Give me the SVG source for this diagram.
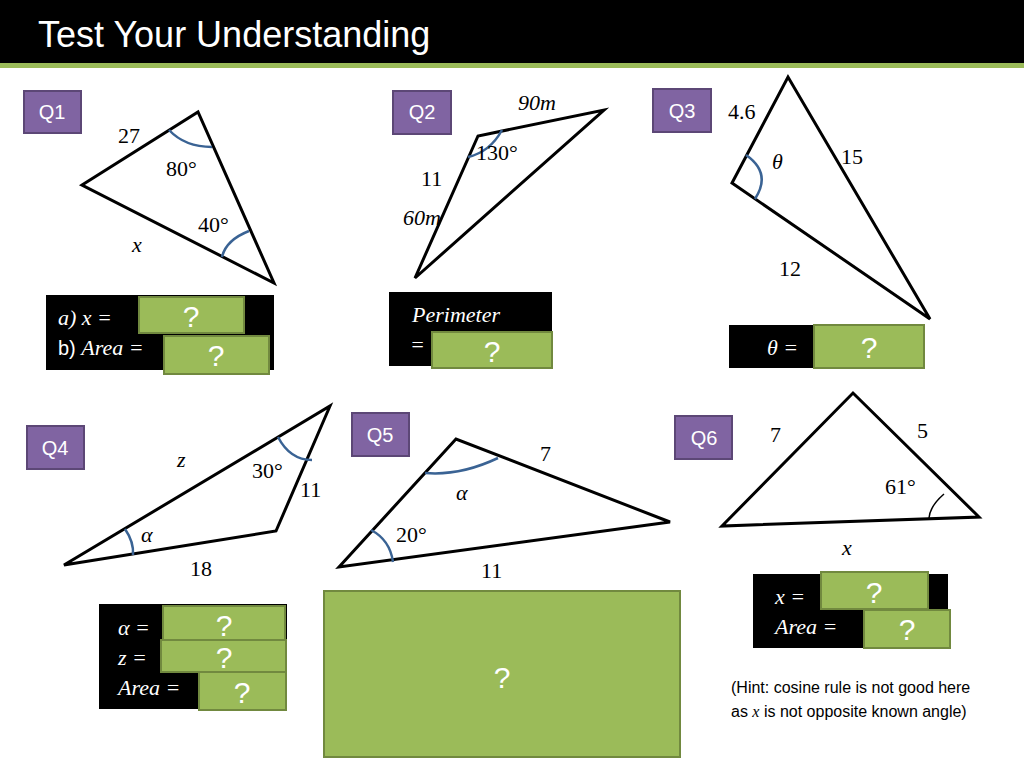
<svg xmlns="http://www.w3.org/2000/svg" width="1024" height="768" viewBox="0 0 1024 768">
<style>
.t{fill:none;stroke:#000;stroke-width:3;stroke-linejoin:miter}
.a{fill:none;stroke:#3a6394;stroke-width:2.5}
.m{font-family:"Liberation Serif",serif;font-size:22px;fill:#000}
.i{font-style:italic}
.q rect{fill:#8064a2;stroke:#5c4776;stroke-width:2}
.q text{font-family:"Liberation Sans",sans-serif;font-size:20px;fill:#fff;text-anchor:middle}
.bk{fill:#000}
.g{fill:#9bbb59;stroke:#71893f;stroke-width:2}
.qm{font-family:"Liberation Sans",sans-serif;font-size:30px;fill:#fff;text-anchor:middle}
.w{font-family:"Liberation Serif",serif;font-size:22px;fill:#fff;font-style:italic}
.h{font-family:"Liberation Sans",sans-serif;font-size:16px;fill:#000}
</style>
<rect width="1024" height="768" fill="#fff"/>
<rect width="1024" height="63" fill="#000"/>
<rect y="63" width="1024" height="5" fill="#9bbb59"/>
<text x="38" y="47" font-family="Liberation Sans,sans-serif" font-size="36" fill="#fff">Test Your Understanding</text>

<g id="q1">
<g class="q"><rect x="24" y="91" width="57" height="42"/><text x="52" y="119">Q1</text></g>
<polygon class="t" points="82,185 198,112 274,283"/>
<path class="a" d="M169,130 Q185,147 212,147"/>
<path class="a" d="M222,257 Q226,240 249,231"/>
<text class="m" x="118" y="143">27</text><text class="m" x="166" y="176">80°</text>
<text class="m" x="198" y="232">40°</text><text class="m i" x="132" y="252">x</text>
<rect class="bk" x="46" y="295" width="228" height="75"/>
<text class="w" x="58" y="325">a)  x =</text>
<text x="58" y="355" font-family="Liberation Sans,sans-serif" font-size="20" fill="#fff">b) <tspan font-family="Liberation Serif,serif" font-style="italic" font-size="22">Area =</tspan></text>
<rect class="g" x="139" y="297" width="105" height="36"/><text class="qm" x="191" y="327">?</text>
<rect class="g" x="164" y="336" width="105" height="38"/><text class="qm" x="216" y="366">?</text>
</g>

<g id="q2">
<g class="q"><rect x="393" y="91" width="58" height="43"/><text x="422" y="119">Q2</text></g>
<polygon class="t" points="415,278 478,136 604,110"/>
<path class="a" d="M468,157 Q490,152 502,130"/>
<text class="m i" x="518" y="110">90m</text><text class="m" x="476" y="160">130°</text>
<text class="m" x="421" y="186">11</text><text class="m i" x="403" y="225">60m</text>
<rect class="bk" x="389" y="292" width="163" height="74"/>
<text class="w" x="412" y="322">Perimeter</text><text class="w" x="410" y="352">=</text>
<rect class="g" x="432" y="332" width="120" height="36"/><text class="qm" x="492" y="362">?</text>
</g>

<g id="q3">
<g class="q"><rect x="653" y="89" width="58" height="43"/><text x="682" y="118">Q3</text></g>
<polygon class="t" points="732,183 788,77 930,319"/>
<path class="a" d="M746,155 Q772,173 755,199"/>
<text class="m" x="728" y="119">4.6</text><text class="m i" x="772" y="169">θ</text>
<text class="m" x="841" y="164">15</text><text class="m" x="779" y="276">12</text>
<rect class="bk" x="729" y="325" width="196" height="43"/>
<text class="w" x="767" y="355">θ =</text>
<rect class="g" x="814" y="325" width="110" height="43"/><text class="qm" x="869" y="358">?</text>
</g>

<g id="q4">
<g class="q"><rect x="27" y="426" width="57" height="43"/><text x="55" y="455">Q4</text></g>
<polygon class="t" points="64,565 330,406 276,531"/>
<path class="a" d="M278,437 Q290,460 312,460"/>
<path class="a" d="M125,529 Q134,542 133,555"/>
<text class="m i" x="177" y="467">z</text><text class="m" x="252" y="478">30°</text>
<text class="m" x="300" y="497">11</text><text class="m i" x="141" y="542">α</text>
<text class="m" x="190" y="576">18</text>
<rect class="bk" x="99" y="604" width="188" height="105"/>
<text class="w" x="118" y="635">α =</text><text class="w" x="118" y="665">z =</text><text class="w" x="118" y="695">Area =</text>
<rect class="g" x="163" y="606" width="122" height="34"/><text class="qm" x="224" y="636">?</text>
<rect class="g" x="161" y="640" width="125" height="32"/><text class="qm" x="224" y="668">?</text>
<rect class="g" x="199" y="672" width="87" height="38"/><text class="qm" x="242" y="703">?</text>
</g>

<g id="q5">
<g class="q"><rect x="352" y="413" width="57" height="43"/><text x="380" y="442">Q5</text></g>
<polygon class="t" points="339,567 456,439 670,522"/>
<path class="a" d="M425,473 Q460,476 498,458"/>
<path class="a" d="M371,530 Q390,540 393,562"/>
<text class="m" x="540" y="461">7</text><text class="m i" x="456" y="500">α</text>
<text class="m" x="396" y="542">20°</text><text class="m" x="481" y="578">11</text>
<rect class="g" x="324" y="591" width="356" height="166"/><text class="qm" x="502" y="688">?</text>
</g>

<g id="q6">
<g class="q"><rect x="675" y="416" width="57" height="43"/><text x="704" y="445">Q6</text></g>
<polygon class="t" points="722,526 853,393 979,517"/>
<path class="a" d="M929,518 Q930,506 944,494" stroke="#000" style="stroke:#000;stroke-width:1.5"/>
<text class="m" x="770" y="442" font-size="30">7</text><text class="m" x="917" y="438" font-size="30">5</text>
<text class="m" x="885" y="494" font-size="28">61°</text><text class="m i" x="842" y="555" font-size="26">x</text>
<rect class="bk" x="753" y="574" width="195" height="74"/>
<text class="w" x="775" y="604">x =</text><text class="w" x="775" y="634">Area =</text>
<rect class="g" x="821" y="572" width="107" height="37"/><text class="qm" x="874" y="603">?</text>
<rect class="g" x="864" y="610" width="86" height="38"/><text class="qm" x="907" y="640">?</text>
<text class="h" x="731" y="693">(Hint: cosine rule is not good here</text>
<text class="h" x="731" y="717">as <tspan font-family="Liberation Serif,serif" font-style="italic">x</tspan> is not opposite known angle)</text>
</g>
</svg>
